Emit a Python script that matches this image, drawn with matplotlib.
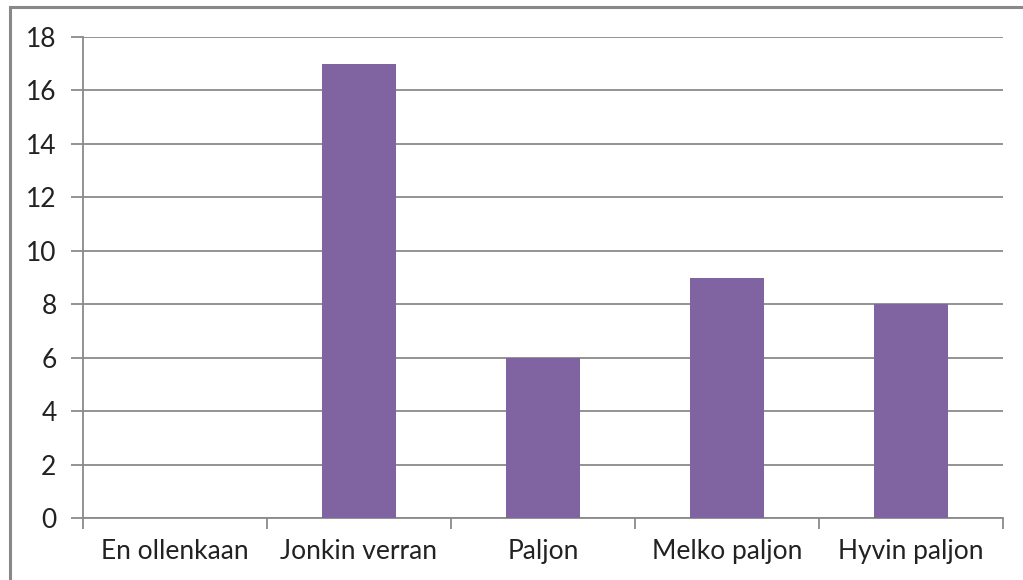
import matplotlib
matplotlib.use("Agg")
import matplotlib.pyplot as plt
from matplotlib.patches import Rectangle

categories = ["En ollenkaan", "Jonkin verran", "Paljon", "Melko paljon", "Hyvin paljon"]
values = [0, 17, 6, 9, 8]
y_ticks = [0, 2, 4, 6, 8, 10, 12, 14, 16, 18]

plt.rcParams['font.family'] = ['Lato', 'DejaVu Sans']

W, H = 1023, 580
fig = plt.figure(figsize=(W / 100, H / 100), dpi=100)
ax = fig.add_axes([83 / W, 1 - 518 / H, (1003 - 83) / W, (518 - 37) / H])

grid_col = "#8a8a8a"
x = list(range(len(categories)))
ax.bar(x, values, width=0.4, color="#8064A2", zorder=3)

ax.set_xlim(-0.5, len(categories) - 0.5)
ax.set_ylim(0, 18)
ax.set_yticks(y_ticks)
ax.set_yticklabels([str(v) for v in y_ticks], fontsize=19, color="#222222")
ax.yaxis.grid(True, color=grid_col, linewidth=1.3, zorder=0)

ax.set_xticks(x)
ax.set_xticklabels(categories, fontsize=19, color="#222222")
ax.set_xticks([i - 0.5 for i in range(len(categories) + 1)], minor=True)
ax.tick_params(axis="x", which="major", length=0, pad=15)
ax.tick_params(axis="x", which="minor", length=8, width=1.3, color=grid_col)
ax.tick_params(axis="y", length=9, width=1.3, color=grid_col, pad=10)

for side in ["top", "right"]:
    ax.spines[side].set_visible(False)
for side in ["left", "bottom"]:
    ax.spines[side].set_color(grid_col)
    ax.spines[side].set_linewidth(1.3)

# outer chart frame
fig.patches.append(Rectangle((10 / W, -0.05), 1.1, 1 - 7 / H + 0.05,
                             transform=fig.transFigure, fill=False,
                             edgecolor="#888888", linewidth=2.2, clip_on=False))

fig.savefig("out.png", dpi=100)
